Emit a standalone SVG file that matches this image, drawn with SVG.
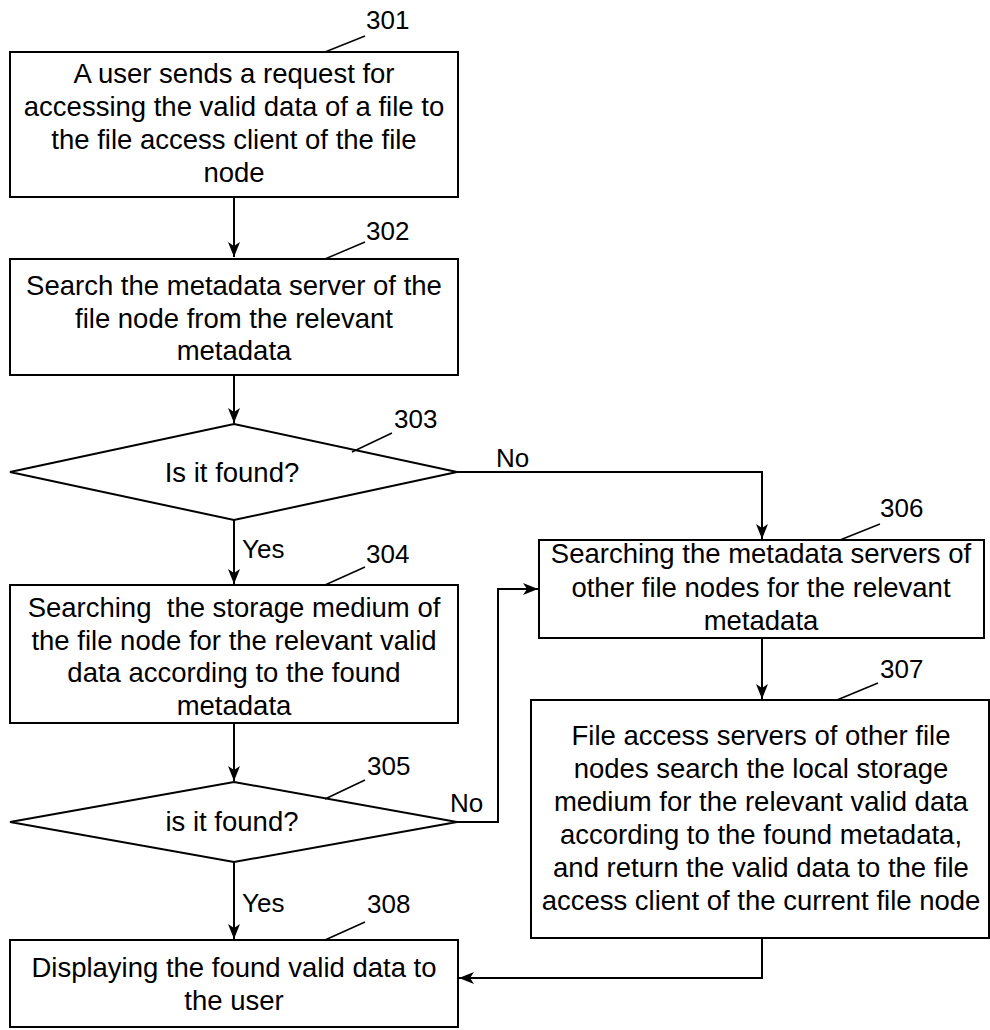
<svg xmlns="http://www.w3.org/2000/svg" width="990" height="1030" viewBox="0 0 990 1030">
<style>
  .box { fill: #ffffff; stroke: #000000; stroke-width: 2; }
  .conn { fill: none; stroke: #000000; stroke-width: 2; }
  .lead { fill: none; stroke: #000000; stroke-width: 1.5; }
  .t { font-family: "Liberation Sans", Arial, sans-serif; font-size: 27.5px; fill: #000000; text-anchor: middle; }
  .lbl { font-family: "Liberation Sans", Arial, sans-serif; font-size: 26px; fill: #000000; }
</style>
<defs>
  <marker id="arr" markerUnits="userSpaceOnUse" markerWidth="16" markerHeight="12" refX="15" refY="6" orient="auto">
    <path d="M0,0 L15,6 L0,12 L4,6 z" fill="#000000"/>
  </marker>
</defs>
<rect width="990" height="1030" fill="#ffffff"/>

<g id="connectors">
  <path class="conn" d="M234,197 L234,257" marker-end="url(#arr)"/>
  <path class="conn" d="M234,375 L234,423" marker-end="url(#arr)"/>
  <path class="conn" d="M234,520 L234,584" marker-end="url(#arr)"/>
  <path class="conn" d="M234,723 L234,781" marker-end="url(#arr)"/>
  <path class="conn" d="M234,860 L234,939" marker-end="url(#arr)"/>
  <path class="conn" d="M457,472 L762,472 L762,539" marker-end="url(#arr)"/>
  <path class="conn" d="M762,638 L762,699" marker-end="url(#arr)"/>
  <path class="conn" d="M762,938 L762,978 L459,978" marker-end="url(#arr)"/>
  <path class="conn" d="M457,822 L498,822 L498,589 L538,589" marker-end="url(#arr)"/>
  <text class="lbl" x="496" y="467">No</text>
  <text class="lbl" x="450" y="812">No</text>
  <text class="lbl" x="242" y="558">Yes</text>
  <text class="lbl" x="242" y="912">Yes</text>
</g>

<g id="n301">
  <rect class="box" x="10" y="52" width="448" height="145"/>
  <text class="t" x="234" y="83">A user sends a request for</text>
  <text class="t" x="234" y="116">accessing the valid data of a file to</text>
  <text class="t" x="234" y="149">the file access client of the file</text>
  <text class="t" x="234" y="182">node</text>
  <path class="lead" d="M325,52 L365,36"/>
  <text class="lbl" x="366" y="29">301</text>
</g>

<g id="n302">
  <rect class="box" x="10" y="259" width="448" height="116"/>
  <text class="t" x="234" y="295">Search the metadata server of the</text>
  <text class="t" x="234" y="328">file node from the relevant</text>
  <text class="t" x="234" y="360">metadata</text>
  <path class="lead" d="M325,259 L365,242"/>
  <text class="lbl" x="366" y="240">302</text>
</g>

<g id="n303">
  <polygon class="box" points="234,424 457,472 234,520 10,472"/>
  <text class="t" x="232" y="482">Is it found?</text>
  <path class="lead" d="M352,452 L392,433"/>
  <text class="lbl" x="394" y="428">303</text>
</g>

<g id="n304">
  <rect class="box" x="10" y="585" width="448" height="138"/>
  <text class="t" x="234" y="617" style="white-space:pre">Searching  the storage medium of</text>
  <text class="t" x="234" y="650">the file node for the relevant valid</text>
  <text class="t" x="234" y="682">data according to the found</text>
  <text class="t" x="234" y="715">metadata</text>
  <path class="lead" d="M325,585 L365,567"/>
  <text class="lbl" x="366" y="563">304</text>
</g>

<g id="n305">
  <polygon class="box" points="234,782 457,822 234,862 10,822"/>
  <text class="t" x="232" y="831">is it found?</text>
  <path class="lead" d="M325,799 L365,780"/>
  <text class="lbl" x="367" y="775">305</text>
</g>

<g id="n306">
  <rect class="box" x="539" y="540" width="445" height="98"/>
  <text class="t" x="761" y="563">Searching the metadata servers of</text>
  <text class="t" x="761" y="597">other file nodes for the relevant</text>
  <text class="t" x="761" y="630">metadata</text>
  <path class="lead" d="M840,540 L880,524"/>
  <text class="lbl" x="880" y="517">306</text>
</g>

<g id="n307">
  <rect class="box" x="531" y="700" width="458" height="238"/>
  <text class="t" x="761" y="745">File access servers of other file</text>
  <text class="t" x="761" y="778">nodes search the local storage</text>
  <text class="t" x="761" y="811">medium for the relevant valid data</text>
  <text class="t" x="761" y="844">according to the found metadata,</text>
  <text class="t" x="761" y="877">and return the valid data to the file</text>
  <text class="t" x="761" y="910">access client of the current file node</text>
  <path class="lead" d="M837,700 L878,683"/>
  <text class="lbl" x="880" y="678">307</text>
</g>

<g id="n308">
  <rect class="box" x="10" y="940" width="448" height="87"/>
  <text class="t" x="234" y="977">Displaying the found valid data to</text>
  <text class="t" x="234" y="1010">the user</text>
  <path class="lead" d="M325,940 L365,922"/>
  <text class="lbl" x="367" y="913">308</text>
</g>
</svg>
